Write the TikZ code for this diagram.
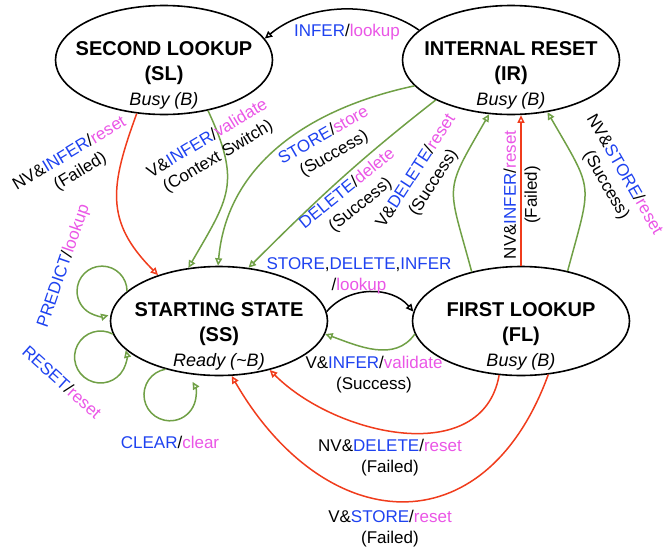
\documentclass[tikz,border=0pt]{standalone}
\usepackage{fontspec}
\setmainfont{Liberation Sans}
\usetikzlibrary{shapes.geometric,arrows.meta}
\definecolor{evblue}{RGB}{30,66,240}
\definecolor{actpink}{RGB}{234,86,230}
\definecolor{okgreen}{RGB}{112,160,70}
\definecolor{failred}{RGB}{240,60,28}
\newcommand{\evt}[1]{\textcolor{evblue}{#1}}
\newcommand{\actn}[1]{\textcolor{actpink}{#1}}
\begin{document}
\begin{tikzpicture}[x=1pt,y=1pt,
    state/.style={ellipse,draw,line width=1.6pt,minimum width=217pt,minimum height=109pt,inner sep=0pt},
    stxt/.style={font=\fontsize{20}{25}\selectfont\bfseries,align=center,yshift=-15pt},
    lbl/.style={font=\fontsize{17}{21}\selectfont,align=center,inner sep=0pt},
    tr/.style={line width=1.5pt,-{Triangle[open,length=7.5pt,width=7pt]}},
    ok/.style={tr,draw=okgreen},
    fail/.style={tr,draw=failred}]
    \useasboundingbox (0,0) rectangle (672,-552);
    \node[state,label={[stxt]center:{SECOND LOOKUP\\(SL)\\{\fontsize{18}{25}\selectfont\mdseries\itshape Busy (B)}}}] (SL) at (164,-60) {};
    \node[state,label={[stxt]center:{INTERNAL RESET\\(IR)\\{\fontsize{18}{25}\selectfont\mdseries\itshape Busy (B)}}}] (IR) at (511,-60) {};
    \node[state,label={[stxt]center:{STARTING STATE\\(SS)\\{\fontsize{18}{25}\selectfont\mdseries\itshape Ready (\textasciitilde B)}}}] (SS) at (219,-321) {};
    \node[state,label={[stxt]center:{FIRST LOOKUP\\(FL)\\{\fontsize{18}{25}\selectfont\mdseries\itshape Busy (B)}}}] (FL) at (521,-321) {};
    % top and left side
    \draw[tr] (IR.162) to[out=145,in=40,looseness=0.9] (SL.12);
    \node[lbl] (lISL) at (347,-32) {\evt{INFER}/\actn{lookup}};
    \draw[fail] (SL.243) to[out=250,in=135,looseness=1.2] (SS.143);
    \node[lbl,rotate=31] (lSLf) at (75,-163) {NV\&\evt{INFER}/\actn{reset}\\(Failed)};
    \draw[ok] (SL.311) to[out=295,in=60,looseness=1.3] (SS.120);
    \node[lbl,rotate=31] (lSLv) at (213,-148) {V\&\evt{INFER}/\actn{validate}\\(Context Switch)};
    \draw[ok] (IR.195) to[out=192,in=85] (SS.91);
    \node[lbl,rotate=30] (lIRs) at (329,-145) {\evt{STORE}/\actn{store}\\(Success)};
    \draw[ok] (IR.208) to[out=218,in=45] (SS.61);
    \node[lbl,rotate=39] (lIRd) at (354,-197) {\evt{DELETE}/\actn{delete}\\(Success)};
    % first lookup up to internal reset
    \draw[ok] (FL.135) to[out=105,in=240,looseness=1.5] (IR.248);
    \node[lbl,rotate=57] (lFLd) at (425,-177) {V\&\evt{DELETE}/\actn{reset}\\(Success)};
    \draw[fail] (FL.north) -- (FL.north |- IR.south);
    \node[lbl,rotate=90] (lFLi) at (522,-195) {NV\&\evt{INFER}/\actn{reset}\\(Failed)};
    \draw[ok] (FL.47) to[out=75,in=300,looseness=1.5] (IR.305);
    \node[lbl,rotate=-60] (lFLs) at (615,-180) {NV\&\evt{STORE}/\actn{reset}\\(Success)};
    % between starting state and first lookup
    \draw[tr] (SS.5) to[out=50,in=130] (FL.175);
    \node[lbl] (lSSF) at (359,-276) {\evt{STORE},\evt{DELETE},\evt{INFER}\\/\actn{lookup}};
    \draw[ok] (FL.187) to[out=235,in=340] (SS.353);
    \node[lbl] (lFLv) at (374,-375) {V\&\evt{INFER}/\actn{validate}\\(Success)};
    \draw[fail] (FL.248) to[out=260,in=315,looseness=1.05] (SS.316);
    \node[lbl] (lFLnd) at (390,-458) {NV\&\evt{DELETE}/\actn{reset}\\(Failed)};
    \draw[fail] (FL.297) to[out=250,in=300,looseness=1.5] (SS.283);
    \node[lbl] (lFLvs) at (390,-529) {V\&\evt{STORE}/\actn{reset}\\(Failed)};
    % self loops
    \draw[ok] (SS.162) arc[start angle=0,end angle=285,radius=25];
    \node[lbl,rotate=71] (lPred) at (64,-266) {\evt{PREDICT}/\actn{lookup}};
    \draw[ok] (SS.187) arc[start angle=62,end angle=375,radius=26];
    \node[lbl,rotate=-42] (lRes) at (62,-382) {\evt{RESET}/\actn{reset}};
    \draw[ok] (SS.222) arc[start angle=100,end angle=390,radius=26];
    \node[lbl] (lClr) at (170,-442) {\evt{CLEAR}/\actn{clear}};
\end{tikzpicture}
\end{document}
